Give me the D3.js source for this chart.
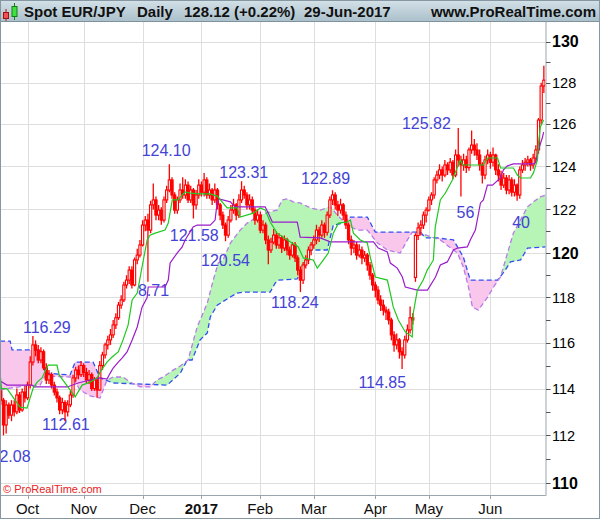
<!DOCTYPE html>
<html><head><meta charset="utf-8">
<script src="https://cdn.jsdelivr.net/npm/d3@7"></script>
<style>
body{margin:0;background:#fff}
svg{display:block}
text{font-family:"Liberation Sans",Arial,Helvetica,sans-serif}
</style>
</head><body>
<svg id="chart" width="600" height="519"></svg>
<script>
// ---------------- DATA ----------------
// daily bars (weekdays) from 19-Sep-2016 to 29-Jun-2017: [open, high, low, close]
const ohlc = [
[113.9,114.1,113.3,113.5],[113.5,113.6,112.0,112.44],[112.44,113.5,112.08,113.29],[113.29,113.4,112.7,112.86],[112.86,113.5,112.6,113.29],
[113.29,113.5,112.8,113.0],[113.0,114.0,112.9,113.72],[113.72,113.85,112.95,113.08],[113.08,114.0,113.0,113.85],[113.85,114.1,113.4,113.6],
[113.6,114.3,113.5,114.15],[114.15,115.4,114.0,115.15],[115.15,116.29,115.0,115.9],[115.9,116.1,115.4,115.68],[115.68,115.9,115.1,115.24],
[115.24,115.8,115.1,115.6],[115.6,115.7,114.8,114.9],[114.9,115.1,114.2,114.37],[114.37,114.8,114.2,114.6],[114.6,114.7,114.0,114.15],
[114.15,114.3,113.7,113.85],[113.85,114.0,113.4,113.6],[113.6,113.7,112.9,113.08],[113.08,113.6,112.9,113.4],[113.4,113.5,112.61,113.0],
[113.0,113.5,112.8,113.3],[113.3,113.9,113.2,113.72],[113.72,114.6,113.6,114.46],[114.46,114.95,114.3,114.8],[114.8,115.0,114.4,114.6],
[114.6,115.2,114.5,115.0],[115.0,115.1,114.5,114.7],[114.7,114.9,114.2,114.37],[114.37,114.8,114.2,114.6],[114.6,114.7,113.9,114.0],
[114.0,114.5,113.9,114.37],[114.37,114.5,113.6,113.94],[113.94,115.2,113.9,115.0],[115.0,115.6,114.8,115.46],[115.46,116.0,115.3,115.9],
[115.9,116.3,115.7,116.12],[116.12,116.6,115.9,116.34],[116.34,117.0,116.2,116.78],[116.78,117.3,116.6,117.1],[117.1,117.8,117.0,117.66],
[117.66,118.1,117.5,117.89],[117.89,118.7,117.8,118.56],[118.56,119.0,118.4,118.78],[118.78,119.4,118.6,119.23],[119.23,119.4,118.4,118.56],
[118.56,119.8,118.5,119.69],[119.69,120.2,119.5,119.91],[119.91,120.6,119.8,120.37],[120.37,121.5,120.3,121.28],[121.28,121.7,121.0,121.51],
[121.51,121.8,118.71,121.05],[121.05,122.4,120.9,122.21],[122.21,123.2,122.0,122.44],[122.44,122.6,121.5,121.74],[121.74,122.2,121.5,121.97],
[121.97,122.1,121.3,121.51],[121.51,122.6,121.4,122.44],[122.44,123.1,122.3,122.9],[122.9,124.1,122.8,123.37],[123.37,123.5,122.5,122.67],
[122.67,122.8,121.8,121.97],[121.97,122.6,121.8,122.44],[122.44,123.2,122.3,122.9],[122.9,123.5,122.5,122.67],[122.67,123.4,122.5,123.13],
[123.13,123.3,122.3,122.44],[122.44,123.1,122.3,122.9],[122.9,123.0,121.58,122.21],[122.21,122.9,122.0,122.67],[122.67,123.4,122.5,123.13],
[123.13,123.3,122.6,122.8],[122.8,123.7,122.6,123.37],[123.37,123.5,122.5,122.67],[122.67,123.2,122.5,122.9],[122.9,123.0,122.2,122.44],
[122.44,123.2,122.3,122.9],[122.9,123.0,122.0,122.21],[122.21,122.3,121.5,121.74],[121.74,121.9,121.1,121.28],[121.28,121.4,120.54,120.82],
[120.82,121.7,120.7,121.51],[121.51,122.2,121.4,121.97],[121.97,122.5,121.8,122.21],[122.21,122.3,121.5,121.74],[121.74,122.7,121.6,122.44],
[122.44,123.31,122.3,122.9],[122.9,123.1,122.5,122.67],[122.67,122.8,122.0,122.21],[122.21,122.7,122.0,122.44],[122.44,122.6,121.8,121.97],
[121.97,122.1,121.3,121.51],[121.51,122.0,121.4,121.74],[121.74,121.9,120.9,121.05],[121.05,121.5,120.9,121.28],[121.28,121.4,120.4,120.6],
[120.6,120.8,119.5,120.14],[120.14,120.7,120.0,120.5],[120.5,121.1,120.4,120.82],[120.82,121.0,120.2,120.37],[120.37,120.9,120.2,120.7],
[120.7,120.8,120.0,120.23],[120.23,120.8,120.1,120.6],[120.6,120.7,119.9,120.14],[120.14,120.3,119.7,119.91],[119.91,120.5,119.8,120.37],
[120.37,120.5,119.6,119.78],[119.78,119.9,119.0,119.23],[119.23,119.4,118.24,118.78],[118.78,119.6,118.6,119.46],[119.46,119.9,119.3,119.69],
[119.69,120.3,119.5,120.14],[120.14,120.5,119.9,120.37],[120.37,120.8,120.2,120.6],[120.6,121.3,120.4,121.05],[121.05,121.2,120.5,120.82],
[120.82,121.5,120.7,121.28],[121.28,121.4,120.7,120.95],[120.95,121.9,120.8,121.74],[121.74,122.6,121.6,122.44],[122.44,122.89,122.2,122.67],
[122.67,122.8,122.0,122.21],[122.21,122.4,121.7,121.97],[121.97,122.5,121.8,122.21],[122.21,122.3,121.5,121.74],[121.74,121.9,121.1,121.28],
[121.28,121.4,120.4,120.6],[120.6,120.8,119.9,120.23],[120.23,120.6,120.0,120.37],[120.37,120.5,119.7,119.91],[119.91,120.4,119.8,120.14],
[120.14,120.3,119.5,119.78],[119.78,120.1,119.6,119.91],[119.91,120.0,119.2,119.46],[119.46,119.6,118.8,119.0],[119.0,119.1,118.3,118.56],
[118.56,118.7,118.0,118.33],[118.33,118.5,117.7,117.89],[117.89,118.1,117.4,117.66],[117.66,117.9,117.2,117.44],[117.44,117.6,117.0,117.35],
[117.35,117.5,116.8,117.0],[117.0,117.1,116.1,116.34],[116.34,116.5,115.6,115.9],[115.9,116.4,115.7,116.12],[116.12,116.2,115.3,115.6],
[115.6,115.8,114.85,115.46],[115.46,116.3,115.3,116.12],[116.12,116.8,116.0,116.56],[116.56,117.6,116.4,117.1],[117.1,117.3,116.8,117.0],
[118.9,120.9,118.7,120.8],[120.8,121.4,120.6,121.15],[121.15,121.5,120.8,121.28],[121.28,121.9,121.1,121.74],[121.74,122.1,121.4,121.97],
[121.97,122.6,121.9,122.44],[122.44,122.8,122.2,122.67],[122.67,123.5,122.5,123.37],[123.37,123.8,123.2,123.6],[123.6,124.1,123.4,123.84],
[123.84,124.0,123.3,123.6],[123.6,124.3,123.5,124.07],[124.07,124.2,123.6,123.84],[123.84,124.4,123.7,124.2],[124.2,124.3,123.4,123.6],
[123.6,124.8,123.5,124.54],[124.54,125.82,124.0,124.31],[124.31,124.5,122.6,124.07],[124.07,124.6,123.8,124.31],[124.31,124.5,123.7,123.95],
[123.95,124.9,123.8,124.78],[124.78,125.7,124.6,125.01],[125.01,125.3,124.5,124.78],[124.78,125.1,124.3,124.54],[124.54,124.8,123.8,124.07],
[124.07,124.2,123.2,123.6],[123.6,124.5,123.4,124.31],[124.31,124.8,124.1,124.54],[124.54,124.7,123.9,124.2],[124.2,124.9,124.0,124.54],
[124.54,124.6,123.6,123.84],[123.84,124.1,123.3,123.6],[123.6,123.8,122.9,123.13],[123.13,123.7,123.0,123.46],[123.46,123.6,122.7,122.9],
[122.9,123.6,122.7,123.37],[123.37,123.5,122.6,122.8],[122.8,123.4,122.6,123.13],[123.13,123.2,122.4,122.67],[122.67,124.0,122.5,123.84],
[123.84,124.3,123.7,124.07],[124.07,124.4,123.8,124.2],[124.2,124.5,124.0,124.31],[124.31,124.4,123.8,124.07],[124.07,124.6,123.9,124.4],
[124.4,125.0,124.2,124.78],[124.78,126.3,124.6,126.2],[126.2,128.0,126.0,127.84],[127.84,128.82,127.5,128.12]
];

// Ichimoku lines: [bar index, price]
const tenkan = [[-0.3,114.7],[0.3,114.0],[2.3,114.0],[7.2,113.2],[9.8,113.16],[12.1,114.02],[13.6,114.28],[15.4,114.46],[17.7,115.02],[21.0,115.02],[21.8,114.59],[25.9,113.94],[27.8,113.64],[30.4,114.15],[33.4,114.28],[36.0,114.46],[37.1,114.71],[39.7,115.15],[41.6,115.37],[43.9,115.59],[45.7,116.12],[47.6,116.78],[49.1,117.89],[51.0,118.2],[52.8,119.37],[54.7,120.6],[55.8,120.82],[57.7,120.91],[61.4,121.05],[62.6,121.37],[64.1,122.44],[66.3,122.44],[67.8,122.67],[68.9,122.81],[70.8,122.76],[74.5,122.72],[78.3,122.72],[80.9,122.62],[84.6,122.07],[88.4,122.07],[89.5,121.65],[94.4,121.83],[97.0,122.07],[98.9,121.97],[100.7,121.42],[103.3,120.91],[107.1,120.6],[110.1,120.37],[111.2,120.28],[113.1,119.78],[116.8,119.69],[118.3,119.32],[120.6,119.69],[122.4,120.0],[124.3,120.91],[126.2,121.37],[129.5,121.42],[130.7,121.51],[131.8,120.91],[134.4,120.6],[137.0,120.46],[138.1,119.82],[140.0,118.92],[144.5,118.78],[145.6,118.2],[146.7,117.58],[148.6,117.0],[151.2,116.47],[153.8,116.25],[154.2,117.31],[155.7,118.33],[157.9,118.78],[159.4,119.23],[160.6,119.46],[161.7,119.69],[162.4,121.19],[164.3,122.44],[166.2,122.76],[168.8,123.37],[170.7,123.98],[171.8,124.31],[172.6,124.07],[180.4,124.07],[181.9,124.4],[185.7,124.4],[186.8,123.93],[191.6,123.93],[193.1,123.6],[194.3,123.46],[198.0,123.46],[199.1,123.7],[200.6,124.31],[201.0,125.11],[201.7,125.87],[202.9,126.2]];

const kijun = [[-0.3,114.33],[2.3,114.15],[11.7,114.15],[12.4,114.07],[24.8,114.07],[28.9,114.24],[33.4,114.37],[37.1,114.46],[39.7,114.41],[40.9,114.67],[42.0,114.89],[43.9,115.15],[45.4,115.33],[47.2,115.59],[49.1,116.12],[51.0,116.69],[52.8,117.57],[54.7,118.0],[55.1,118.47],[61.4,118.47],[62.6,118.78],[63.3,119.55],[65.9,120.0],[67.8,120.28],[68.9,120.6],[71.9,121.19],[73.4,121.28],[78.3,121.28],[80.1,121.51],[80.9,122.35],[81.6,122.49],[85.8,122.35],[87.6,122.12],[98.8,122.12],[100.0,121.83],[101.5,121.42],[110.8,121.42],[111.2,121.19],[111.9,120.73],[119.4,120.69],[121.3,120.6],[123.2,120.51],[139.3,120.51],[141.1,120.23],[144.5,120.05],[145.6,119.55],[148.2,119.32],[150.1,118.92],[151.2,118.47],[155.7,118.33],[159.5,118.33],[162.5,118.92],[164.3,119.46],[166.9,119.6],[169.2,120.14],[170.7,120.23],[174.4,120.28],[175.5,120.6],[177.4,121.05],[179.3,122.3],[180.4,122.44],[181.9,123.13],[183.8,123.13],[186.8,123.46],[187.9,123.84],[189.4,124.03],[191.6,124.12],[199.1,124.12],[199.9,124.17],[201.0,124.78],[202.5,125.39],[202.9,125.63]];

const spanA = [[-0.3,113.94],[3.5,114.02],[9.1,114.11],[14.7,114.15],[16.5,114.54],[25.9,114.5],[26.6,114.5],[29.6,113.94],[33.4,113.68],[37.1,113.59],[39.7,114.37],[42.0,114.5],[45.7,114.5],[48.3,114.28],[52.1,114.07],[55.8,114.07],[58.4,114.37],[60.7,114.5],[64.4,114.8],[67.1,114.98],[70.0,115.24],[73.4,116.69],[77.2,117.75],[79.4,118.78],[81.3,119.55],[83.1,119.69],[85.8,120.46],[89.5,121.05],[92.1,121.37],[95.9,121.65],[98.9,121.83],[103.3,121.97],[105.2,122.44],[107.1,122.49],[109.3,122.35],[111.9,122.3],[115.7,122.07],[119.4,121.97],[123.2,122.12],[125.8,121.74],[129.5,121.28],[133.3,121.05],[137.0,121.05],[140.8,120.46],[144.5,120.14],[149.3,120.0],[152.0,120.6],[153.8,120.96],[156.8,120.91],[164.3,120.6],[170.7,120.0],[172.9,119.37],[174.8,118.47],[176.3,117.57],[178.5,117.44],[181.9,118.0],[184.2,118.47],[186.8,118.92],[189.4,120.0],[191.6,120.91],[196.9,122.12],[199.1,122.35],[201.7,122.58],[203.8,122.67]];

const spanB = [[-0.3,116.07],[3.5,116.07],[4.2,115.68],[14.7,115.68],[15.8,115.46],[16.5,114.67],[25.9,114.59],[27.8,115.15],[34.5,115.15],[37.1,114.46],[42.0,114.24],[62.2,114.15],[67.1,114.67],[69.7,115.24],[71.5,115.24],[74.5,116.12],[77.2,116.43],[78.3,117.13],[80.9,117.66],[85.8,118.02],[88.4,118.2],[90.6,118.24],[100.7,118.24],[102.6,118.65],[103.7,118.78],[110.8,118.83],[113.8,119.46],[115.7,120.14],[122.0,120.14],[124.3,121.28],[128.0,121.37],[130.7,121.65],[137.0,121.65],[140.0,120.96],[156.8,120.96],[158.7,120.69],[163.2,120.69],[169.2,120.6],[172.9,119.82],[175.5,118.78],[185.7,118.78],[188.6,119.23],[190.5,119.6],[194.3,119.69],[196.9,120.23],[203.8,120.28]];

// month labels and the bar index of each month's first trading day
const monthLabels = ["Oct","Nov","Dec","2017","Feb","Mar","Apr","May","Jun"];
const monthStarts = [10,31,53,75,97,117,140,160,183];

// price axis
const priceTicks = [110,111,112,113,114,115,116,117,118,119,120,121,122,123,124,125,126,127,128,129,130];
const priceLabels = [110,112,114,116,118,120,122,124,126,128,130];
const boldPrices = [110,120,130];

// high / low annotations: text, bar index and price of label centre
const annText  = ["2.08","116.29","112.61","8.71","124.10","121.58","120.54","123.31","118.24","122.89","114.85","125.82","56","40"];
const annIdx   = [5.3,17.2,24.3,57.1,61.8,72.3,84.0,90.8,109.9,121.4,142.6,159.1,173.7,194.5];
const annPrice = [111.12,116.70,112.48,118.33,124.78,120.80,119.67,123.72,117.80,123.46,114.28,126.04,121.87,121.42];

const header = {symbol:"Spot EUR/JPY", period:"Daily", quote:"128.12 (+0.22%)", date:"29-Jun-2017", site:"www.ProRealTime.com"};

// ---------------- CHART ----------------
const W = 600, H = 519;
const plotL = 1, plotR = 545.5, plotT = 22, plotB = 495;
const svg = d3.select("#chart");

const x = d3.scaleLinear().domain([-0.3, 203.8]).range([0, 546]);
const y = d3.scaleLog().domain([110, 130]).range([482.9, 41.7]);

// header
const defs = svg.append("defs");
const grad = defs.append("linearGradient").attr("id","hdr").attr("x1",0).attr("x2",0).attr("y1",0).attr("y2",1);
grad.append("stop").attr("offset","0%").attr("stop-color","#d4e1e8");
grad.append("stop").attr("offset","100%").attr("stop-color","#a9bfca");
svg.append("rect").attr("x",0).attr("y",0).attr("width",W).attr("height",plotT).attr("fill","url(#hdr)");
svg.append("line").attr("x1",0).attr("x2",W).attr("y1",plotT-0.5).attr("y2",plotT-0.5).attr("stroke","#7f929c");

// header icon
const icon = svg.append("g");
icon.append("line").attr("x1",6).attr("x2",6).attr("y1",9).attr("y2",21).attr("stroke","#c01010");
icon.append("rect").attr("x",3.5).attr("y",12.5).attr("width",5).attr("height",6).attr("fill","#f05050").attr("stroke","#a01010");
icon.append("line").attr("x1",14.5).attr("x2",14.5).attr("y1",3).attr("y2",20).attr("stroke","#108010");
icon.append("rect").attr("x",12).attr("y",6.5).attr("width",5).attr("height",10).attr("fill","#40e040").attr("stroke","#108010");

const hText = [[header.symbol,24],[header.period,137],[header.quote,184],[header.date,304]];
hText.forEach(([t,px]) => svg.append("text").attr("x",px).attr("y",17).attr("font-size",15).attr("font-weight","bold").attr("fill","#111").text(t));
svg.append("text").attr("x",596).attr("y",17).attr("text-anchor","end").attr("font-size",15).attr("font-weight","bold").attr("fill","#111").text(header.site);

// clip for plot area
defs.append("clipPath").attr("id","plotclip").append("rect").attr("x",plotL).attr("y",plotT).attr("width",plotR-plotL).attr("height",plotB-plotT);

// grid
const grid = svg.append("g").attr("clip-path","url(#plotclip)");
grid.selectAll("line.h").data(priceLabels).join("line")
  .attr("x1",plotL).attr("x2",plotR).attr("y1",d=>Math.round(y(d))+0.5).attr("y2",d=>Math.round(y(d))+0.5)
  .attr("stroke","#dedede").attr("stroke-width",1);
grid.selectAll("line.v").data(monthStarts).join("line")
  .attr("x1",d=>Math.round(x(d))+0.5).attr("x2",d=>Math.round(x(d))+0.5).attr("y1",plotT).attr("y2",plotB)
  .attr("stroke","#dedede").attr("stroke-width",1);

// cloud
const g = svg.append("g").attr("clip-path","url(#plotclip)");
const areaTop = d3.area().x(d=>x(d[0])).y0(plotT).y1(d=>y(d[1]));
const areaBot = d3.area().x(d=>x(d[0])).y0(plotB).y1(d=>y(d[1]));
defs.append("clipPath").attr("id","belowA").append("path").attr("d",areaBot(spanA));
defs.append("clipPath").attr("id","belowB").append("path").attr("d",areaBot(spanB));
g.append("g").attr("clip-path","url(#belowA)").append("path").attr("d",areaTop(spanB)).attr("fill","#b6f5b6");
g.append("g").attr("clip-path","url(#belowB)").append("path").attr("d",areaTop(spanA)).attr("fill","#f9c6ec");

const line = d3.line().x(d=>x(d[0])).y(d=>y(d[1]));
g.append("path").attr("d",line(spanB)).attr("fill","none").attr("stroke","#3050f0").attr("stroke-width",1.3).attr("stroke-dasharray","5,3");
g.append("path").attr("d",line(spanA)).attr("fill","none").attr("stroke","#b67ce6").attr("stroke-width",1.3).attr("stroke-dasharray","5,3");

// annotations
g.selectAll("text.ann").data(annText).join("text")
  .attr("x",(d,i)=>x(annIdx[i])).attr("y",(d,i)=>y(annPrice[i])).attr("dy","0.36em")
  .attr("text-anchor","middle").attr("font-size",16).attr("fill","#4343d6").text(d=>d);

// candles
const cg = g.append("g");
ohlc.forEach((d,i) => {
  const [o,h,l,c] = d;
  const cx = x(i);
  cg.append("line").attr("x1",cx).attr("x2",cx).attr("y1",y(h)).attr("y2",y(l)).attr("stroke","#ff0000").attr("stroke-width",1.3);
  const top = y(Math.max(o,c)), bot = y(Math.min(o,c));
  cg.append("rect").attr("x",cx-1.1).attr("y",top).attr("width",2.2).attr("height",Math.max(1,bot-top))
    .attr("fill", c>=o ? "#ffffff" : "#ff0000").attr("stroke","#ff0000").attr("stroke-width",1.1);
});

// tenkan & kijun
g.append("path").attr("d",line(kijun)).attr("fill","none").attr("stroke","#9b1ccb").attr("stroke-width",1.2);
g.append("path").attr("d",line(tenkan)).attr("fill","none").attr("stroke","#1ec81e").attr("stroke-width",1.2);

// watermark
svg.append("text").attr("x",3).attr("y",493).attr("font-size",11).attr("fill","#e8221e").text("\u00A9 ProRealTime.com");

// frame
svg.append("line").attr("x1",0).attr("x2",plotR).attr("y1",plotB+0.5).attr("y2",plotB+0.5).attr("stroke","#9aa5ad");
svg.append("line").attr("x1",plotR+0.5).attr("x2",plotR+0.5).attr("y1",plotT).attr("y2",plotB+1).attr("stroke","#9aa5ad");
svg.append("rect").attr("x",0.5).attr("y",0.5).attr("width",W-1).attr("height",H-1).attr("fill","none").attr("stroke","#8797a1");

// price axis
const ax = svg.append("g");
ax.selectAll("line").data(priceTicks).join("line")
  .attr("x1",plotR+0.5).attr("x2",plotR+5).attr("y1",d=>Math.round(y(d))+0.5).attr("y2",d=>Math.round(y(d))+0.5)
  .attr("stroke","#555");
ax.selectAll("text").data(priceLabels).join("text")
  .attr("x",552).attr("y",d=>y(d)).attr("dy","0.36em")
  .attr("font-size",d=>boldPrices.includes(d)?16:14.5)
  .attr("font-weight",d=>boldPrices.includes(d)?"bold":"normal")
  .attr("fill","#000").text(d=>d);

// month axis
const mx = svg.append("g");
mx.selectAll("line").data(monthStarts).join("line")
  .attr("x1",d=>Math.round(x(d))+0.5).attr("x2",d=>Math.round(x(d))+0.5).attr("y1",plotB).attr("y2",plotB+4).attr("stroke","#9aa5ad");
mx.selectAll("text").data(monthLabels).join("text")
  .attr("x",(d,i)=>x(monthStarts[i])).attr("y",514).attr("text-anchor","middle")
  .attr("font-size",15).attr("font-weight",d=>d==="2017"?"bold":"normal").attr("fill","#111").text(d=>d);
</script>
</body></html>
